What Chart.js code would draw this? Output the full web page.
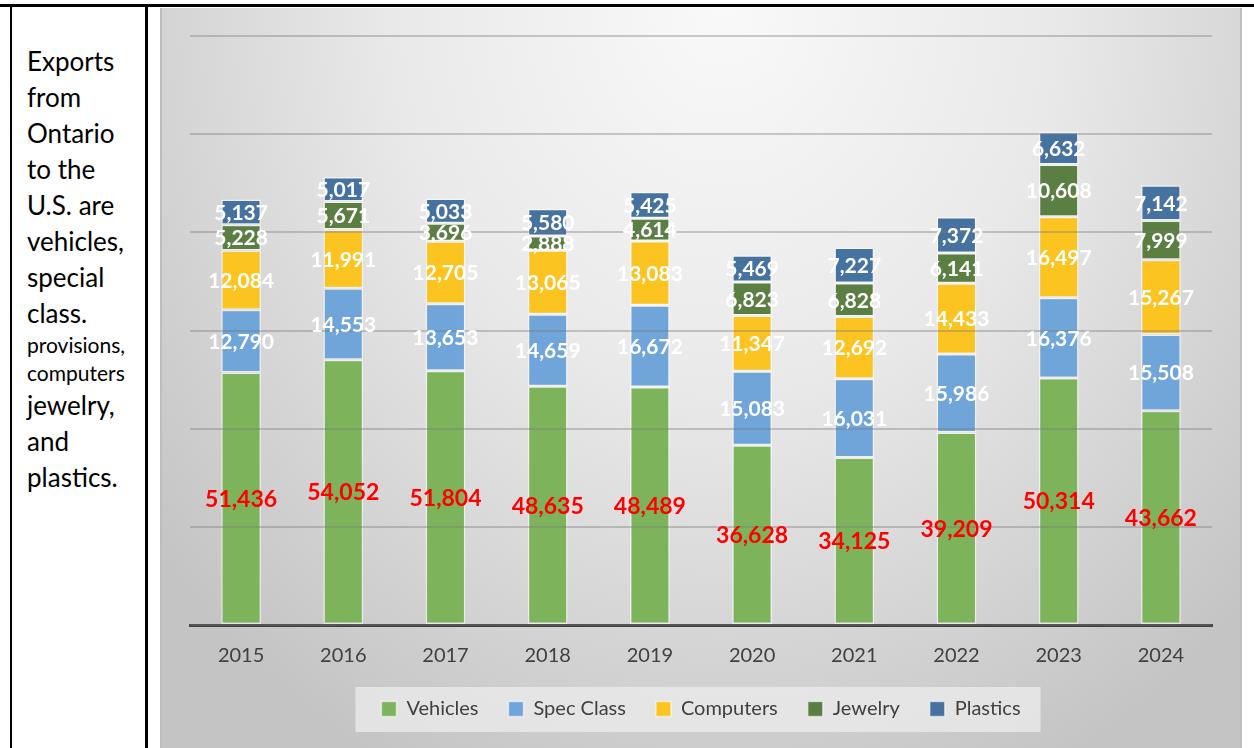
<!DOCTYPE html>
<html>
<head>
<meta charset="utf-8">
<script src="https://cdn.jsdelivr.net/npm/chart.js@4.4.1/dist/chart.umd.min.js"></script>
<style>
  body { margin:0; width:1254px; height:748px; overflow:hidden; background:#fff; position:relative; font-family: Lato, sans-serif; }
  .rule { position:absolute; background:#000; }
  .note { position:absolute; left:27px; top:43px; color:#000; font-size:26px; line-height:36px; }
  .note .small { font-size:21px; line-height:28px; display:block; }
  .chartBox {
    position:absolute; left:160px; top:8px; width:1082px; height:740px;
    background: radial-gradient(ellipse 68% 115% at 52% 0%, #f9f9f9 0%, #e9e9e9 45%, #d0d0d0 82%, #c4c4c4 100%);
    box-shadow: inset 2px 0 0 #bdbdbd, inset -2px 0 0 #bdbdbd;
  }
</style>
</head>
<body>
<div class="rule" style="left:0;top:4px;width:1254px;height:3px"></div>
<div class="rule" style="left:10px;top:4px;width:2px;height:744px"></div>
<div class="rule" style="left:145px;top:4px;width:3px;height:744px"></div>
<div class="note">
  Exports<br>from<br>Ontario<br>to the<br>U.S. are<br>vehicles,<br>special<br>class.
  <span class="small">provisions,<br>computers</span>
  jewelry,<br>and<br>plastics.
</div>
<div class="chartBox"><canvas id="c" width="1082" height="740"></canvas></div>
<script>
const years = ["2015", "2016", "2017", "2018", "2019", "2020", "2021", "2022", "2023", "2024"];
const vehicles = [51436, 54052, 51804, 48635, 48489, 36628, 34125, 39209, 50314, 43662];
const specClass = [12790, 14553, 13653, 14659, 16672, 15083, 16031, 15986, 16376, 15508];
const computers = [12084, 11991, 12705, 13065, 13083, 11347, 12692, 14433, 16497, 15267];
const jewelry = [5228, 5671, 3696, 2888, 4614, 6823, 6828, 6141, 10608, 7999];
const plastics = [5137, 5017, 5033, 5580, 5425, 5469, 7227, 7372, 6632, 7142];

const seriesNames = ["Vehicles", "Spec Class", "Computers", "Jewelry", "Plastics"];
const seriesColors = ["#7db35b", "#6fa5d8", "#fbc421", "#5b7e43", "#45729f"];

// legend panel behind the legend items
const legendPanel = {
    id: "legendPanel",
    beforeDraw(chart) {
        const boxes = chart.legend && chart.legend.legendHitBoxes;
        if (!boxes || !boxes.length) return;
        const ctx = chart.ctx;
        let left = Infinity, right = -Infinity, mid = 0;
        boxes.forEach(b => {
            left = Math.min(left, b.left);
            right = Math.max(right, b.left + b.width);
            mid = b.top + b.height / 2;
        });
        ctx.save();
        ctx.fillStyle = "rgba(236,236,236,0.75)";
        ctx.fillRect(left - 26, mid - 22, right - left + 46, 45);
        ctx.restore();
    }
};

// values written in the middle of every segment
const segmentLabels = {
    id: "segmentLabels",
    afterDraw(chart) {
        const ctx = chart.ctx;
        ctx.save();
        ctx.textAlign = "center";
        ctx.textBaseline = "middle";
        chart.data.datasets.forEach((ds, i) => {
            const meta = chart.getDatasetMeta(i);
            meta.data.forEach((bar, j) => {
                const v = ds.data[j];
                if (i === 0) {
                    ctx.font = "700 23px Lato";
                    ctx.fillStyle = "#ff0000";
                } else {
                    ctx.font = "700 21px Lato";
                    ctx.fillStyle = "#ffffff";
                }
                ctx.fillText(v.toLocaleString("en-US"), bar.x, (bar.y + bar.base) / 2 + 1);
            });
        });
        ctx.restore();
    }
};

const series = [vehicles, specClass, computers, jewelry, plastics];

new Chart(document.getElementById("c").getContext("2d"), {
    type: "bar",
    data: {
        labels: years,
        datasets: series.map((d, i) => ({
            label: seriesNames[i],
            data: d,
            backgroundColor: seriesColors[i],
            borderColor: "rgba(255,255,255,0.55)",
            borderWidth: 1.5,
            borderSkipped: false,
            barPercentage: 0.39,
            categoryPercentage: 1,
        })),
    },
    options: {
        responsive: false,
        animation: false,
        devicePixelRatio: 1,
        layout: { padding: { left: 30, right: 30, top: 28, bottom: 19 } },
        scales: {
            x: {
                stacked: true,
                grid: { display: false, drawTicks: false },
                border: { color: "#404040", width: 3 },
                ticks: { color: "#404040", padding: 19, font: { family: "Lato", size: 20 } },
                afterFit(scale) { scale.height = 44; },
            },
            y: {
                stacked: true,
                min: 0,
                max: 120000,
                ticks: { display: false, stepSize: 20000 },
                border: { display: false },
                grid: { color: "rgba(120,120,120,0.38)", lineWidth: 2, drawTicks: false, z: 1 },
            },
        },
        plugins: {
            tooltip: { enabled: false },
            legend: {
                position: "bottom",
                labels: {
                    color: "#404040",
                    font: { family: "Lato", size: 20 },
                    boxWidth: 15,
                    boxHeight: 15,
                    padding: 30,
                },
            },
        },
    },
    plugins: [legendPanel, segmentLabels],
});
</script>
</body>
</html>
